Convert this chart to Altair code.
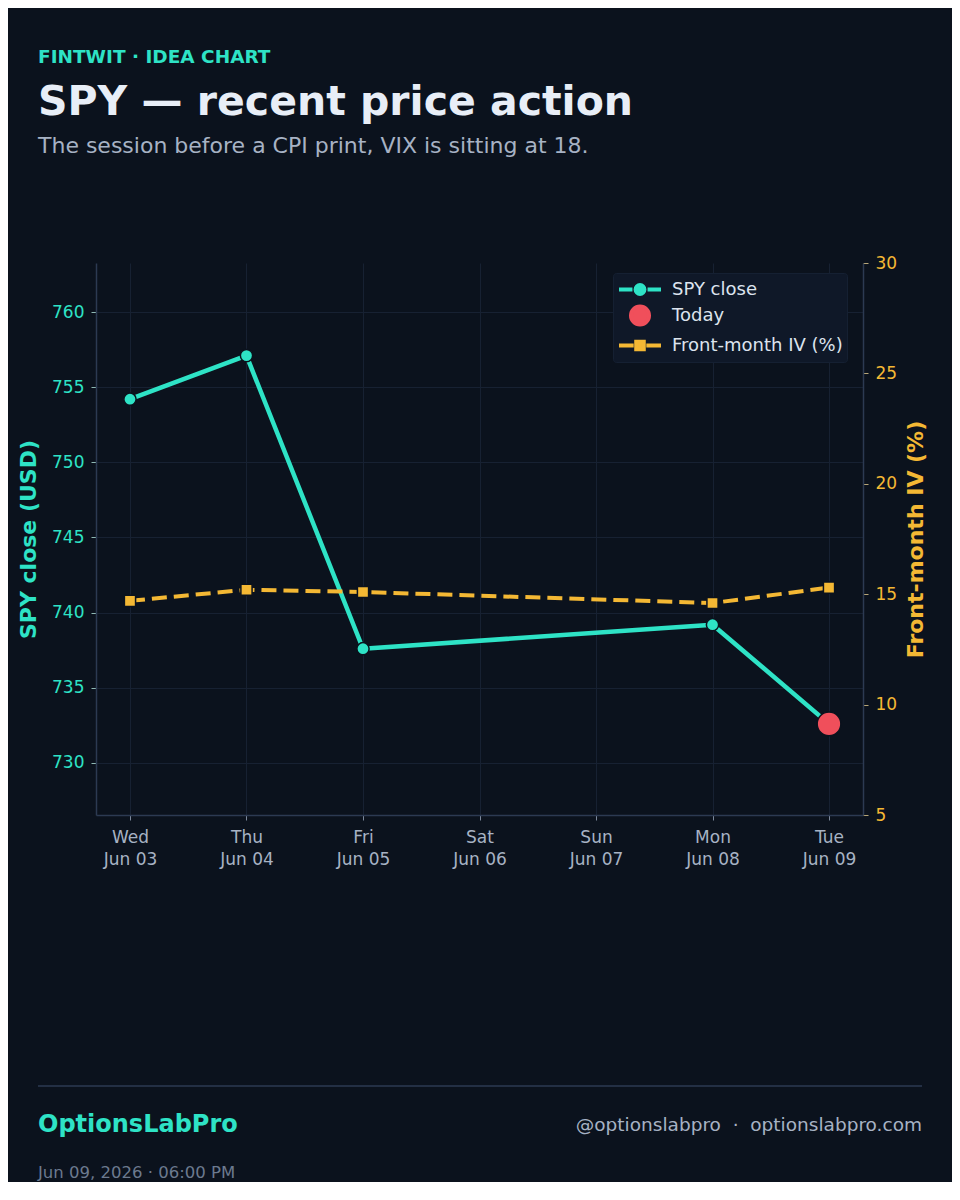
import altair as alt
import pandas as pd

# ---------------- data ----------------
DATES = ["2026-06-03", "2026-06-04", "2026-06-05", "2026-06-08", "2026-06-09"]
SPY_CLOSE = [754.2, 757.1, 737.6, 739.2, 732.6]
FRONT_IV = [14.7, 15.2, 15.1, 14.6, 15.3]
TODAY_DATE = "2026-06-09"
AXIS_DAYS = [3, 4, 5, 6, 7, 8, 9]
SPY_TICKS = [730, 735, 740, 745, 750, 755, 760]
IV_TICKS = [5, 10, 15, 20, 25, 30]
SERIES = ["SPY close", "Today", "Front-month IV (%)"]

KICKER = "FINTWIT · IDEA CHART"
TITLE = "SPY — recent price action"
SUBTITLE = "The session before a CPI print, VIX is sitting at 18."
BRAND = "OptionsLabPro"
HANDLES = "@optionslabpro\u00a0\u00a0·\u00a0\u00a0optionslabpro.com"
STAMP = "Jun 09, 2026 · 06:00 PM"

# ---------------- style ----------------
FONT = "DejaVu Sans"
BG = "#0b121d"
TEAL = "#2ee3c6"
GOLD = "#f4b834"
RED = "#f04f5b"
WHITE = "#e8eef7"
GREY = "#a7b2c4"
DIM = "#6c7a8f"
GRID = "#172132"
SPINE = "#2c3a52"

df = pd.DataFrame({"date": DATES, "spy": SPY_CLOSE, "iv": FRONT_IV})
today_df = df[df["date"] == TODAY_DATE]
legend_df = pd.DataFrame({"series": SERIES})

x_enc = alt.X(
    "date:T",
    scale=alt.Scale(
        type="utc",
        domain=[
            alt.DateTime(year=2026, month=6, date=2, hours=17, utc=True),
            alt.DateTime(year=2026, month=6, date=9, hours=7, utc=True),
        ],
    ),
    axis=alt.Axis(
        values=[alt.DateTime(year=2026, month=6, date=d, utc=True) for d in AXIS_DAYS],
        labelExpr="[utcFormat(datum.value, '%a'), utcFormat(datum.value, '%b %d')]",
        title=None,
        grid=True,
        gridColor=GRID,
        gridWidth=1,
        domainColor=SPINE,
        domainWidth=1.5,
        tickColor="#7d899c",
        tickSize=5,
        labelColor=GREY,
        labelFont=FONT,
        labelFontSize=17,
        labelLineHeight=22,
        labelPadding=9,
        labelBaseline="top",
    ),
)

y_spy = alt.Y(
    "spy:Q",
    scale=alt.Scale(domain=[726.54, 763.26], nice=False, zero=False),
    axis=alt.Axis(
        orient="left",
        values=SPY_TICKS,
        title="SPY close (USD)",
        titleColor=TEAL,
        titleFont=FONT,
        titleFontSize=22,
        titleFontWeight="bold",
        titlePadding=11,
        labelColor=TEAL,
        labelFont=FONT,
        labelFontSize=17,
        labelPadding=7,
        grid=True,
        gridColor=GRID,
        gridWidth=1,
        domainColor=SPINE,
        domainWidth=1.5,
        tickColor="#8fb8b3",
        tickSize=5,
    ),
)

y_iv = alt.Y(
    "iv:Q",
    scale=alt.Scale(domain=[5, 30], nice=False, zero=False),
    axis=alt.Axis(
        orient="right",
        values=IV_TICKS,
        title="Front-month IV (%)",
        titleColor=GOLD,
        titleFont=FONT,
        titleFontSize=22,
        titleFontWeight="bold",
        titleAngle=270,
        titleBaseline="top",
        titlePadding=9,
        labelColor=GOLD,
        labelFont=FONT,
        labelFontSize=17,
        labelPadding=7,
        grid=False,
        domainColor=SPINE,
        domainWidth=1.5,
        tickColor="#b8a677",
        tickSize=5,
    ),
)

base = alt.Chart(df)

spy_line = base.mark_line(color=TEAL, strokeWidth=4.5, strokeJoin="round").encode(x=x_enc, y=y_spy)
spy_pts = base.mark_circle(color=TEAL, size=150, opacity=1, stroke=BG, strokeWidth=1.5).encode(x=x_enc, y=y_spy)
today_pt = alt.Chart(today_df).mark_circle(color=RED, size=560, opacity=1, stroke=BG, strokeWidth=1.5).encode(
    x=x_enc, y=y_spy
)

PATHS = [
    "M-1,0H0.28M1.72,0H3M0.58,0A0.42,0.42 0 1,1 1.42,0A0.42,0.42 0 1,1 0.58,0Z",
    "M0.14,0A0.86,0.86 0 1,1 1.86,0A0.86,0.86 0 1,1 0.14,0Z",
    "M-1,0H0.4M1.6,0H3M0.64,-0.36H1.36V0.36H0.64Z",
]
leg = alt.Legend(
    title=None,
    orient="none",
    legendX=517,
    legendY=10,
    fillColor="#0f1828",
    strokeColor="#152032",
    cornerRadius=3,
    padding=4,
    labelFont=FONT,
    labelFontSize=18,
    labelColor="#dde4ee",
    labelOffset=30,
    labelLimit=400,
    symbolSize=441,
    symbolStrokeWidth=4,
    symbolOpacity=1,
    rowPadding=-4,
)
legend_layer = alt.Chart(legend_df).mark_point(filled=True, opacity=0).encode(
    fill=alt.Fill("series:N", scale=alt.Scale(domain=SERIES, range=[TEAL, RED, GOLD]), legend=leg, sort=SERIES),
    stroke=alt.Stroke("series:N", scale=alt.Scale(domain=SERIES, range=[TEAL, RED, GOLD]), legend=leg, sort=SERIES),
    shape=alt.Shape("series:N", scale=alt.Scale(domain=SERIES, range=PATHS), legend=leg, sort=SERIES),
)

iv_line = base.mark_line(color=GOLD, strokeWidth=4, strokeDash=[15, 7]).encode(x=x_enc, y=y_iv)
iv_pts = base.mark_square(color=GOLD, size=125, opacity=1, stroke=BG, strokeWidth=1.5).encode(x=x_enc, y=y_iv)


def label(txt, x, y, size, color, weight="normal", align="left"):
    return alt.Chart(pd.DataFrame({"t": [txt]})).mark_text(
        font=FONT, fontSize=size, fontWeight=weight, color=color, align=align, baseline="alphabetic"
    ).encode(text="t:N", x=alt.value(x), y=alt.value(y))


texts = alt.layer(
    label(KICKER, -58, -200, 18.5, TEAL, "bold"),
    label(TITLE, -58, -148, 41, WHITE, "bold"),
    label(SUBTITLE, -58, -110, 22, GREY),
    label(BRAND, -58, 869, 24, TEAL, "bold"),
    label(HANDLES, 826, 868, 18.5, GREY, align="right"),
    label(STAMP, -58, 915, 16.5, DIM),
    alt.Chart(pd.DataFrame({"a": [0]})).mark_rule(color=SPINE, strokeWidth=1.5).encode(
        x=alt.value(-58), x2=alt.value(826), y=alt.value(823)
    ),
)

spy_group = alt.layer(spy_line, spy_pts, today_pt, legend_layer)
iv_group = alt.layer(iv_line, iv_pts)

chart = (
    alt.layer(spy_group, iv_group, texts)
    .resolve_scale(y="independent")
    .properties(
        width=767,
        height=552,
        background=BG,
        padding={"left": 88, "top": 255, "right": 89, "bottom": 367},
        autosize=alt.AutoSizeParams(type="none"),
    )
    .configure_view(strokeWidth=0)
)

chart.save("out.html", embed_options={"renderer": "svg", "actions": False})
